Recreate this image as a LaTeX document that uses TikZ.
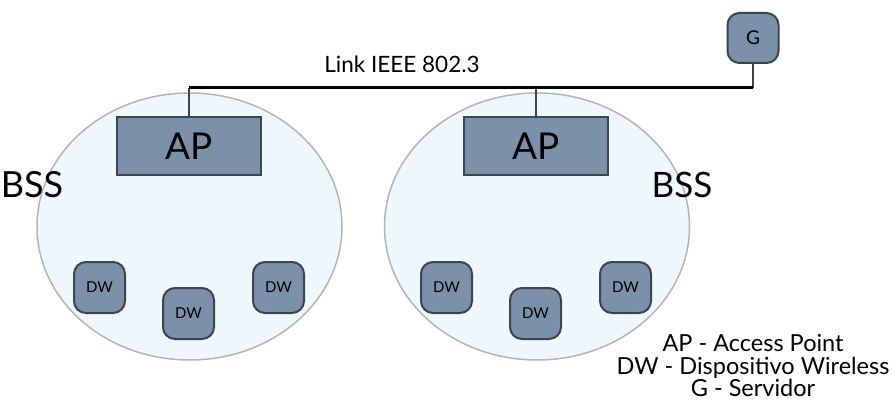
\documentclass[tikz,border=0pt]{standalone}
\usepackage{fontspec}
\setmainfont{Lato}
\usetikzlibrary{shapes.geometric}
\definecolor{cellfill}{HTML}{EEF8FC}
\definecolor{celledge}{HTML}{B4B4B4}
\definecolor{boxfill}{HTML}{7B91A9}
\definecolor{boxedge}{HTML}{3A454E}
\begin{document}
\begin{tikzpicture} [x=1pt, y=-1pt, every node/.style={inner sep=0pt, font=\fontsize{15}{18}\selectfont},
                cell_style/.style={ellipse, draw=celledge, line width=1.5pt, fill=cellfill, minimum width=305pt, minimum height=267pt},
                ap_style/.style={rectangle, draw=boxedge, line width=1.5pt, fill=boxfill, minimum width=144pt, minimum height=58pt, font=\fontsize{37}{40}\selectfont},
                dw_style/.style={rectangle, rounded corners=12pt, draw=boxedge, line width=2pt, fill=boxfill, minimum width=51pt, minimum height=51pt}]
                \tikzset{bus edge/.style={draw=black, line width=3pt}, drop edge/.style={draw=boxedge, line width=2pt}}
                \useasboundingbox (0,0) rectangle (894,409);
                \node [cell_style] (cell1) at (189.5,226.5) {};
                \node [cell_style] (cell2) at (537,226.5) {};
                \node [ap_style] (ap1) at (189,146) {AP};
                \node [ap_style] (ap2) at (536,146) {AP};
                \node [dw_style] (dw1) at (99.5,287.5) {DW};
                \node [dw_style] (dw2) at (188.5,313.5) {DW};
                \node [dw_style] (dw3) at (278.5,287.5) {DW};
                \node [dw_style] (dw4) at (446.5,287.5) {DW};
                \node [dw_style] (dw5) at (535.5,313.5) {DW};
                \node [dw_style] (dw6) at (625.5,287.5) {DW};
                \node [dw_style, minimum width=51pt, minimum height=50pt, font=\fontsize{19}{21}\selectfont] (g) at (753,38) {G};
                \node [font=\fontsize{36}{38}\selectfont] (bss1) at (32,185) {BSS};
                \node [font=\fontsize{35}{38}\selectfont] (bss2) at (682,185) {BSS};
                \node [font=\fontsize{22.5}{24}\selectfont] (link) at (402,64) {Link IEEE 802.3};
                \node [align=center, font=\fontsize{23.5}{22.5}\selectfont] (legend) at (753,366) {AP - Access Point\\DW - Dispositivo Wireless\\G - Servidor};
                \coordinate (busL) at (189,88);
                \coordinate (busR) at (753,88);
                \draw [drop edge] (ap1.north) -- (busL);
                \draw [drop edge] (ap2.north) -- (ap2.north |- busL);
                \draw [drop edge] (g.south) -- (busR);
                \draw [bus edge] (busL) -- (busR);
            \end{tikzpicture}
\end{document}
